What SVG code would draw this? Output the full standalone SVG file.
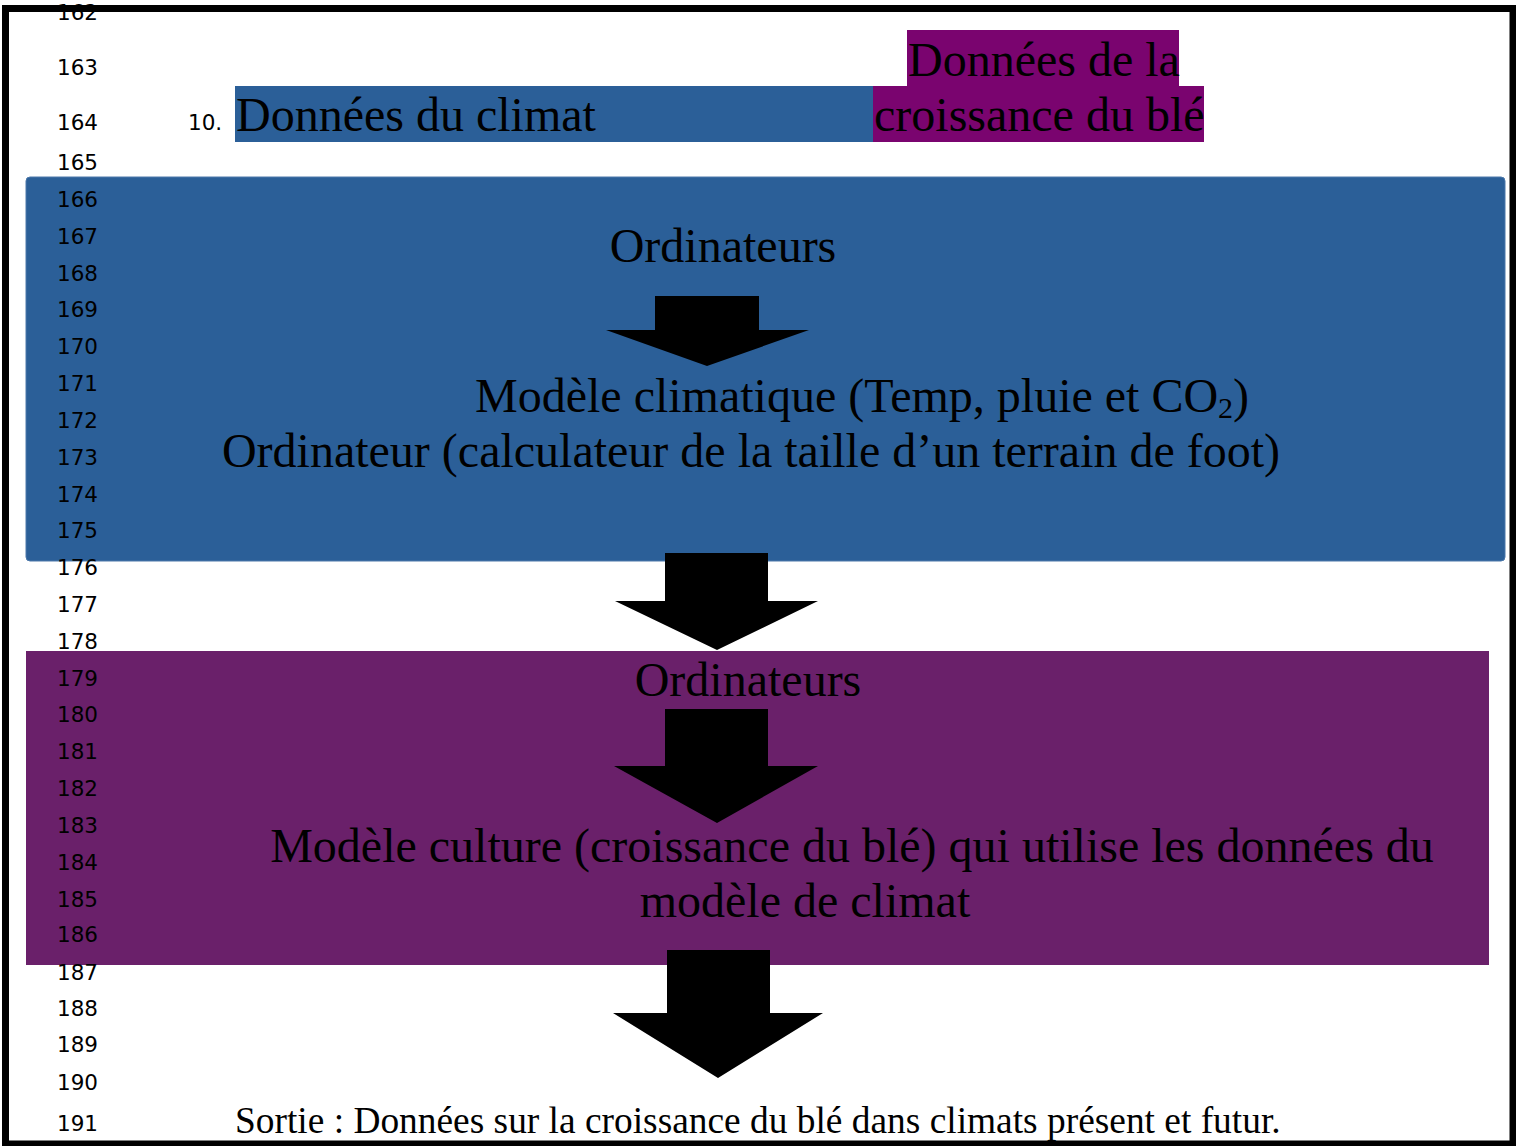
<svg xmlns="http://www.w3.org/2000/svg" width="1516" height="1146" viewBox="0 0 1516 1146">
<style>
.ln{font-family:"DejaVu Sans","Liberation Sans",sans-serif;font-size:21.5px;fill:#000}
.t{font-family:"Liberation Serif","Times New Roman",serif;font-size:48px;fill:#000}
.s{font-family:"Liberation Serif","Times New Roman",serif;font-size:37.4px;fill:#000}
.arr{fill:#000}
</style>
<rect x="0" y="0" width="1516" height="1146" fill="#fff"/>
<g id="hdr-climat">
<rect x="235" y="86" width="638" height="56" fill="#2B5F98"/>
<text class="t" x="236" y="131">Données du climat</text>
</g>
<g id="hdr-ble">
<rect x="907" y="30" width="272" height="56" fill="#7A046F"/>
<rect x="873" y="86" width="331" height="56" fill="#7A046F"/>
<text class="t" x="908" y="76">Données de la</text>
<text class="t" x="874" y="131">croissance du blé</text>
</g>
<g id="box-climat">
<rect x="26" y="177" width="1479" height="384" rx="4" fill="#2B5F98" stroke="#4C78AA" stroke-width="1"/>
<text class="t" x="723" y="262" text-anchor="middle">Ordinateurs</text>
<text class="t" x="475" y="412">Modèle climatique (Temp, pluie et CO<tspan font-size="30" dy="6">2</tspan><tspan dy="-6">)</tspan></text>
<text class="t" x="751" y="467" text-anchor="middle">Ordinateur (calculateur de la taille d’un terrain de foot)</text>
</g>
<g id="box-culture">
<rect x="26" y="651" width="1463" height="314" fill="#6A206A"/>
<text class="t" x="748" y="696" text-anchor="middle">Ordinateurs</text>
<text class="t" x="852" y="862" text-anchor="middle">Modèle culture (croissance du blé) qui utilise les données du</text>
<text class="t" x="805" y="917" text-anchor="middle">modèle de climat</text>
</g>
<g id="sortie">
<text class="s" x="235" y="1133">Sortie : Données sur la croissance du blé dans climats présent et futur.</text>
</g>
<g id="connectors">
<polygon class="arr" points="655,296 759,296 759,330 809,330 707,366 606,330 655,330"/>
<polygon class="arr" points="665,553 768,553 768,601 818,601 717,650 615,601 665,601"/>
<polygon class="arr" points="665,709 768,709 768,766 818,766 717,823 614,766 665,766"/>
<polygon class="arr" points="667,950 770,950 770,1013 823,1013 718,1078 613,1013 667,1013"/>
</g>
<g id="line-numbers">
<text class="ln" x="57" y="20">162</text>
<text class="ln" x="57" y="75">163</text>
<text class="ln" x="57" y="130">164</text>
<text class="ln" x="57" y="170">165</text>
<text class="ln" x="57" y="207">166</text>
<text class="ln" x="57" y="244">167</text>
<text class="ln" x="57" y="281">168</text>
<text class="ln" x="57" y="317">169</text>
<text class="ln" x="57" y="354">170</text>
<text class="ln" x="57" y="391">171</text>
<text class="ln" x="57" y="428">172</text>
<text class="ln" x="57" y="465">173</text>
<text class="ln" x="57" y="502">174</text>
<text class="ln" x="57" y="538">175</text>
<text class="ln" x="57" y="575">176</text>
<text class="ln" x="57" y="612">177</text>
<text class="ln" x="57" y="649">178</text>
<text class="ln" x="57" y="686">179</text>
<text class="ln" x="57" y="722">180</text>
<text class="ln" x="57" y="759">181</text>
<text class="ln" x="57" y="796">182</text>
<text class="ln" x="57" y="833">183</text>
<text class="ln" x="57" y="870">184</text>
<text class="ln" x="57" y="907">185</text>
<text class="ln" x="57" y="942">186</text>
<text class="ln" x="57" y="980">187</text>
<text class="ln" x="57" y="1016">188</text>
<text class="ln" x="57" y="1052">189</text>
<text class="ln" x="57" y="1090">190</text>
<text class="ln" x="57" y="1131">191</text>
<text class="ln" x="188" y="130">10.</text>
</g>
<rect x="5.5" y="8.5" width="1507.5" height="1135.5" fill="none" stroke="#000" stroke-width="7"/>
</svg>
